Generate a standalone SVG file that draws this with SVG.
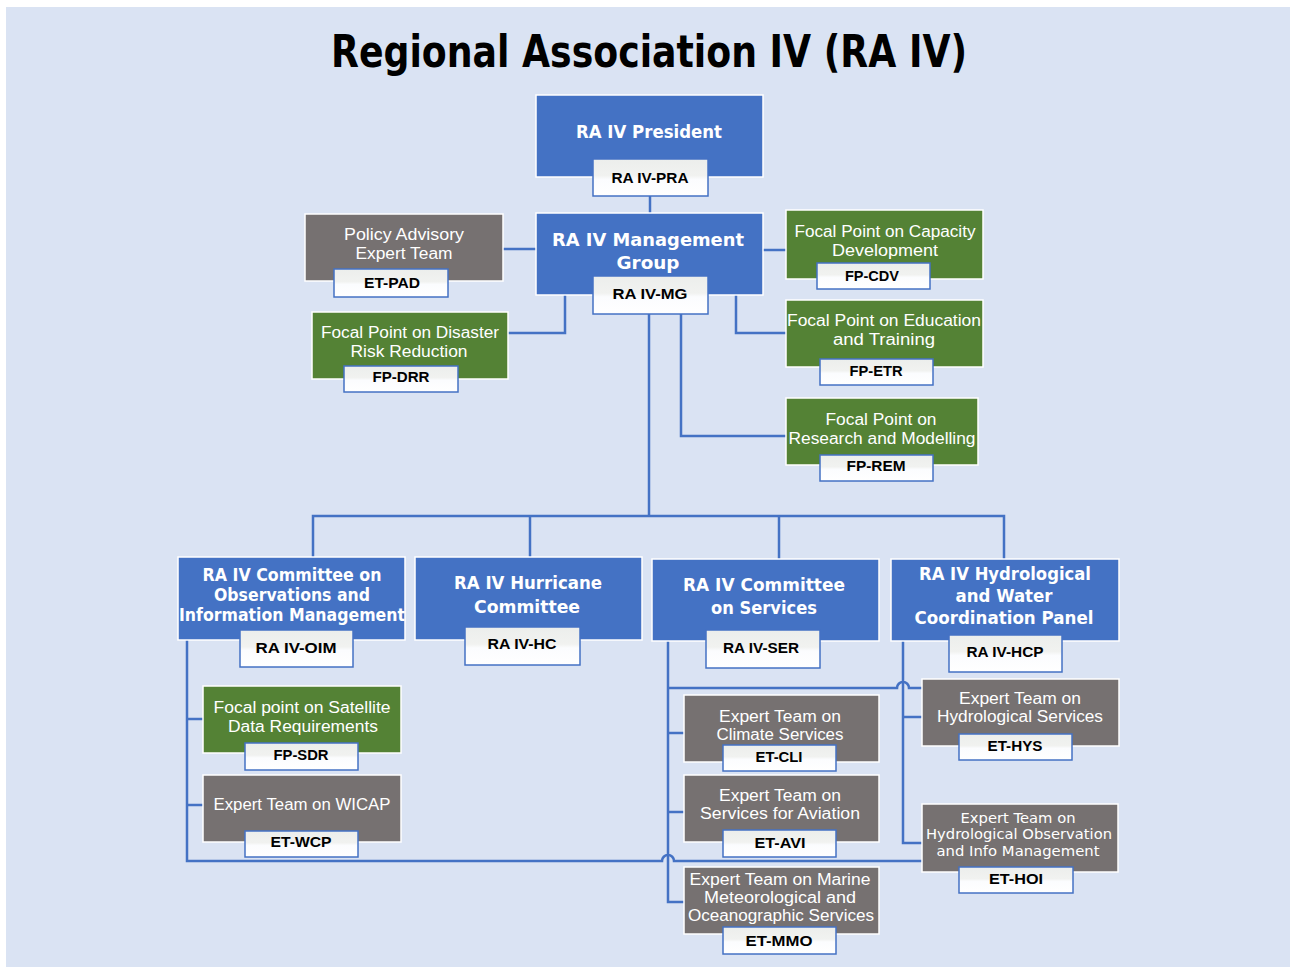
<svg xmlns="http://www.w3.org/2000/svg" width="1292" height="968" viewBox="0 0 1292 968">
<defs>
<linearGradient id="lbl" x1="0" y1="0" x2="0" y2="1">
<stop offset="0" stop-color="#eceeec"/><stop offset="0.45" stop-color="#f1f2f0"/><stop offset="0.55" stop-color="#fbfcfe"/><stop offset="1" stop-color="#ffffff"/>
</linearGradient>
<style>
.blue{fill:#4472c4;stroke:#ffffff;stroke-width:1.5}
.green{fill:#548235;stroke:#ffffff;stroke-width:1.5}
.gray{fill:#767171;stroke:#ffffff;stroke-width:1.5}
.lab{fill:url(#lbl);stroke:#4472c4;stroke-width:1.5}
.conn{fill:none;stroke:#4472c4;stroke-width:2.5}
text{text-anchor:middle;lengthAdjust:spacingAndGlyphs}
.t{font-family:"Liberation Sans",Arial,sans-serif;font-size:16px;fill:#ffffff}
.tb{font-family:"DejaVu Sans",Verdana,sans-serif;font-weight:bold;font-size:18px;fill:#ffffff}
.tv{font-family:"DejaVu Sans",Verdana,sans-serif;font-size:14px;fill:#ffffff}
.l{font-family:"Liberation Sans",Arial,sans-serif;font-weight:bold;font-size:15px;fill:#000000}
.title{font-family:"DejaVu Sans",Verdana,sans-serif;font-weight:bold;font-size:44px;fill:#000000}
</style>
</defs>
<rect x="0" y="0" width="1292" height="968" fill="#ffffff"/>
<rect x="6" y="7" width="1284" height="960" fill="#dae3f3"/>
<text class="title" x="649" y="67" textLength="636" lengthAdjust="spacingAndGlyphs">Regional Association IV (RA IV)</text>

<g id="connectors">
<path class="conn" d="M650,196 V213"/>
<path class="conn" d="M503,249 H536"/>
<path class="conn" d="M763,250 H786"/>
<path class="conn" d="M565,295 V333 H508"/>
<path class="conn" d="M736,295 V333 H786"/>
<path class="conn" d="M681,314 V436 H786"/>
<path class="conn" d="M649,314 V516"/>
<path class="conn" d="M313,557 V516 H1004 V559"/>
<path class="conn" d="M530,516 V557"/>
<path class="conn" d="M779,516 V559"/>
<path class="conn" d="M187,640 V861 H662 A6,6 0 0 1 674,861 H922"/>
<path class="conn" d="M187,719 H203"/>
<path class="conn" d="M187,805 H203"/>
<path class="conn" d="M668,641 V902 H684"/>
<path class="conn" d="M668,733 H684"/>
<path class="conn" d="M668,812 H684"/>
<path class="conn" d="M668,688 H897 A6,6 0 0 1 909,688 H922"/>
<path class="conn" d="M903,641 V843 H922"/>
<path class="conn" d="M903,717 H922"/>
</g>

<g id="president">
<rect class="blue" x="536" y="95" width="227" height="82"/>
<text class="tb" x="649" y="138" textLength="146" lengthAdjust="spacingAndGlyphs">RA IV President</text>
<rect class="lab" x="593" y="159" width="115" height="37"/>
<text class="l" x="650" y="183" textLength="77" lengthAdjust="spacingAndGlyphs">RA IV-PRA</text>
</g>

<g id="mg">
<rect class="blue" x="536" y="213" width="227" height="82"/>
<text class="tb" x="648" y="246" textLength="192" lengthAdjust="spacingAndGlyphs">RA IV Management</text>
<text class="tb" x="648" y="269" textLength="63" lengthAdjust="spacingAndGlyphs">Group</text>
<rect class="lab" x="593" y="276" width="115" height="38"/>
<text class="l" x="650" y="299" textLength="75" lengthAdjust="spacingAndGlyphs">RA IV-MG</text>
</g>

<g id="et-pad">
<rect class="gray" x="305" y="214" width="198" height="67"/>
<text class="t" x="404" y="240" textLength="120" lengthAdjust="spacingAndGlyphs">Policy Advisory</text>
<text class="t" x="404" y="259" textLength="97" lengthAdjust="spacingAndGlyphs">Expert Team</text>
<rect class="lab" x="334" y="269" width="114" height="28"/>
<text class="l" x="392" y="288" textLength="56" lengthAdjust="spacingAndGlyphs">ET-PAD</text>
</g>

<g id="fp-cdv">
<rect class="green" x="786" y="210" width="197" height="69"/>
<text class="t" x="885" y="237" textLength="181" lengthAdjust="spacingAndGlyphs">Focal Point on Capacity</text>
<text class="t" x="885" y="256" textLength="106" lengthAdjust="spacingAndGlyphs">Development</text>
<rect class="lab" x="817" y="263" width="113" height="26"/>
<text class="l" x="872" y="281" textLength="54" lengthAdjust="spacingAndGlyphs">FP-CDV</text>
</g>

<g id="fp-drr">
<rect class="green" x="312" y="312" width="196" height="67"/>
<text class="t" x="410" y="338" textLength="178" lengthAdjust="spacingAndGlyphs">Focal Point on Disaster</text>
<text class="t" x="409" y="357" textLength="117" lengthAdjust="spacingAndGlyphs">Risk Reduction</text>
<rect class="lab" x="344" y="366" width="114" height="26"/>
<text class="l" x="401" y="382" textLength="57" lengthAdjust="spacingAndGlyphs">FP-DRR</text>
</g>

<g id="fp-etr">
<rect class="green" x="786" y="300" width="197" height="67"/>
<text class="t" x="884" y="326" textLength="194" lengthAdjust="spacingAndGlyphs">Focal Point on Education</text>
<text class="t" x="884" y="345" textLength="102" lengthAdjust="spacingAndGlyphs">and  Training</text>
<rect class="lab" x="820" y="359" width="113" height="26"/>
<text class="l" x="876" y="376" textLength="53" lengthAdjust="spacingAndGlyphs">FP-ETR</text>
</g>

<g id="fp-rem">
<rect class="green" x="786" y="398" width="192" height="67"/>
<text class="t" x="881" y="425" textLength="111" lengthAdjust="spacingAndGlyphs">Focal Point on</text>
<text class="t" x="882" y="444" textLength="187" lengthAdjust="spacingAndGlyphs">Research and Modelling</text>
<rect class="lab" x="820" y="455" width="113" height="26"/>
<text class="l" x="876" y="471" textLength="59" lengthAdjust="spacingAndGlyphs">FP-REM</text>
</g>

<g id="oim">
<rect class="blue" x="178" y="557" width="227" height="83"/>
<text class="tb" x="292" y="581" font-size="17" textLength="179" lengthAdjust="spacingAndGlyphs">RA IV Committee on</text>
<text class="tb" x="292" y="601" font-size="17" textLength="156" lengthAdjust="spacingAndGlyphs">Observations and</text>
<text class="tb" x="292" y="621" font-size="17" textLength="226" lengthAdjust="spacingAndGlyphs">Information Management</text>
<rect class="lab" x="240" y="630" width="113" height="37"/>
<text class="l" x="296" y="653" textLength="81" lengthAdjust="spacingAndGlyphs">RA IV-OIM</text>
</g>

<g id="hc">
<rect class="blue" x="415" y="557" width="227" height="83"/>
<text class="tb" x="528" y="589" textLength="148" lengthAdjust="spacingAndGlyphs">RA IV Hurricane</text>
<text class="tb" x="527" y="613" textLength="106" lengthAdjust="spacingAndGlyphs">Committee</text>
<rect class="lab" x="465" y="627" width="115" height="38"/>
<text class="l" x="522" y="649" textLength="69" lengthAdjust="spacingAndGlyphs">RA IV-HC</text>
</g>

<g id="ser">
<rect class="blue" x="652" y="559" width="227" height="82"/>
<text class="tb" x="764" y="591" textLength="162" lengthAdjust="spacingAndGlyphs">RA IV Committee</text>
<text class="tb" x="764" y="614" textLength="106" lengthAdjust="spacingAndGlyphs">on Services</text>
<rect class="lab" x="706" y="630" width="114" height="38"/>
<text class="l" x="761" y="653" textLength="76" lengthAdjust="spacingAndGlyphs">RA IV-SER</text>
</g>

<g id="hcp">
<rect class="blue" x="891" y="559" width="228" height="82"/>
<text class="tb" x="1005" y="580" textLength="172" lengthAdjust="spacingAndGlyphs">RA IV Hydrological</text>
<text class="tb" x="1004" y="602" textLength="97" lengthAdjust="spacingAndGlyphs">and Water</text>
<text class="tb" x="1004" y="624" textLength="179" lengthAdjust="spacingAndGlyphs">Coordination  Panel</text>
<rect class="lab" x="949" y="635" width="113" height="37"/>
<text class="l" x="1005" y="657" textLength="77" lengthAdjust="spacingAndGlyphs">RA IV-HCP</text>
</g>

<g id="fp-sdr">
<rect class="green" x="203" y="686" width="198" height="67"/>
<text class="t" x="302" y="713" textLength="177" lengthAdjust="spacingAndGlyphs">Focal point on Satellite</text>
<text class="t" x="303" y="732" textLength="150" lengthAdjust="spacingAndGlyphs">Data Requirements</text>
<rect class="lab" x="245" y="743" width="113" height="27"/>
<text class="l" x="301" y="760" textLength="55" lengthAdjust="spacingAndGlyphs">FP-SDR</text>
</g>

<g id="et-wcp">
<rect class="gray" x="203" y="775" width="198" height="67"/>
<text class="t" x="302" y="810" textLength="177" lengthAdjust="spacingAndGlyphs">Expert Team on WICAP</text>
<rect class="lab" x="245" y="831" width="113" height="26"/>
<text class="l" x="301" y="847" textLength="61" lengthAdjust="spacingAndGlyphs">ET-WCP</text>
</g>

<g id="et-cli">
<rect class="gray" x="684" y="695" width="195" height="67"/>
<text class="t" x="780" y="722" textLength="122" lengthAdjust="spacingAndGlyphs">Expert Team on</text>
<text class="t" x="780" y="740" textLength="127" lengthAdjust="spacingAndGlyphs">Climate Services</text>
<rect class="lab" x="723" y="745" width="113" height="26"/>
<text class="l" x="779" y="762" textLength="47" lengthAdjust="spacingAndGlyphs">ET-CLI</text>
</g>

<g id="et-avi">
<rect class="gray" x="684" y="775" width="195" height="67"/>
<text class="t" x="780" y="801" textLength="122" lengthAdjust="spacingAndGlyphs">Expert Team on</text>
<text class="t" x="780" y="819" textLength="160" lengthAdjust="spacingAndGlyphs">Services for Aviation</text>
<rect class="lab" x="723" y="830" width="113" height="27"/>
<text class="l" x="780" y="848" textLength="51" lengthAdjust="spacingAndGlyphs">ET-AVI</text>
</g>

<g id="et-mmo">
<rect class="gray" x="684" y="867" width="195" height="67"/>
<text class="t" x="780" y="885" textLength="181" lengthAdjust="spacingAndGlyphs">Expert Team on Marine</text>
<text class="t" x="780" y="903" textLength="152" lengthAdjust="spacingAndGlyphs">Meteorological and</text>
<text class="t" x="781" y="921" textLength="186" lengthAdjust="spacingAndGlyphs">Oceanographic Services</text>
<rect class="lab" x="723" y="927" width="113" height="27"/>
<text class="l" x="779" y="946" textLength="67" lengthAdjust="spacingAndGlyphs">ET-MMO</text>
</g>

<g id="et-hys">
<rect class="gray" x="922" y="679" width="197" height="67"/>
<text class="t" x="1020" y="704" textLength="122" lengthAdjust="spacingAndGlyphs">Expert Team on</text>
<text class="t" x="1020" y="722" textLength="166" lengthAdjust="spacingAndGlyphs">Hydrological Services</text>
<rect class="lab" x="959" y="734" width="113" height="26"/>
<text class="l" x="1015" y="751" textLength="55" lengthAdjust="spacingAndGlyphs">ET-HYS</text>
</g>

<g id="et-hoi">
<rect class="gray" x="922" y="804" width="196" height="68"/>
<text class="tv" x="1018" y="823" textLength="115" lengthAdjust="spacingAndGlyphs">Expert Team on</text>
<text class="tv" x="1019" y="839" textLength="186" lengthAdjust="spacingAndGlyphs">Hydrological  Observation</text>
<text class="tv" x="1018" y="856" textLength="163" lengthAdjust="spacingAndGlyphs">and Info Management</text>
<rect class="lab" x="959" y="867" width="114" height="26"/>
<text class="l" x="1016" y="884" textLength="54" lengthAdjust="spacingAndGlyphs">ET-HOI</text>
</g>
</svg>
